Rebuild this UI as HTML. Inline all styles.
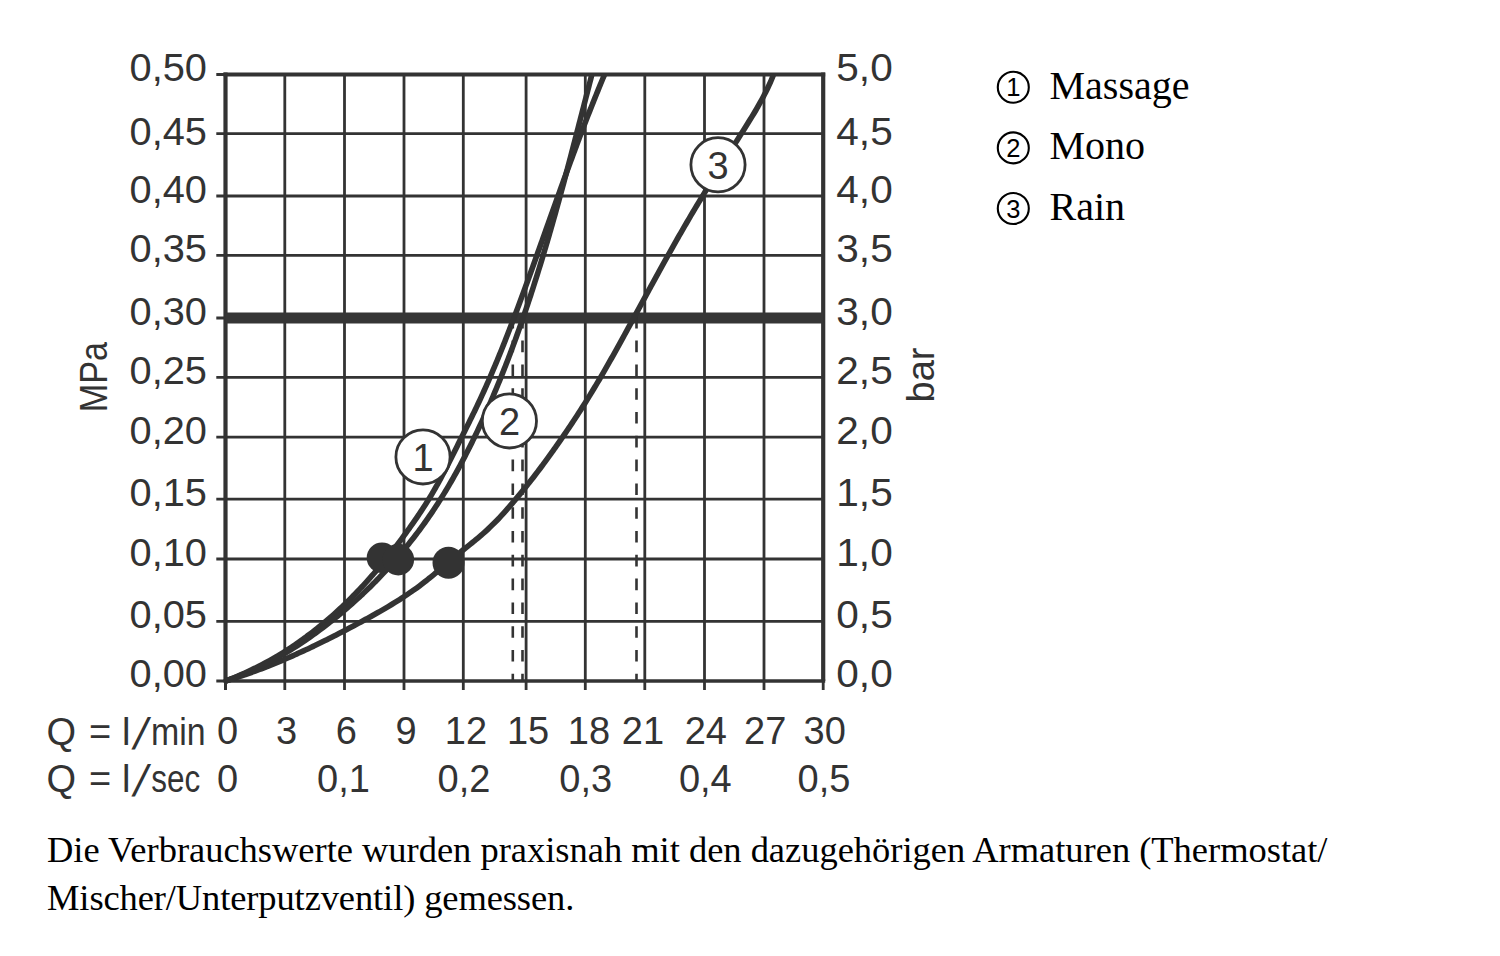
<!DOCTYPE html>
<html><head><meta charset="utf-8"><title>Durchflussdiagramm</title>
<style>html,body{margin:0;padding:0;background:#fff;}body{width:1500px;height:956px;overflow:hidden;}svg{display:block;}</style>
</head><body>
<svg width="1500" height="956" viewBox="0 0 1500 956">
<rect x="0" y="0" width="1500" height="956" fill="#fff"/>
<path d="M284.8,74.6 V690 M344.5,74.6 V690 M404,74.6 V690 M463.3,74.6 V690 M526.1,74.6 V690 M585.3,74.6 V690 M644.8,74.6 V690 M704.5,74.6 V690 M764,74.6 V690 M216.3,621.3 H823.2 M216.3,559 H823.2 M216.3,499.2 H823.2 M216.3,437.2 H823.2 M216.3,377.4 H823.2 M216.3,318 H823.2 M216.3,255.4 H823.2 M216.3,196 H823.2 M216.3,133.6 H823.2" stroke="#333" stroke-width="2.8" fill="none"/>
<path d="M225.5,681 V690 M216.3,74.6 H225.5 M216.3,681 H225.5" stroke="#333" stroke-width="3" fill="none"/>
<path d="M223.5,74.6 H825.2" stroke="#333" stroke-width="4" fill="none"/>
<path d="M223.5,681 H825.2" stroke="#333" stroke-width="3.5" fill="none"/>
<path d="M225.5,72.6 V681" stroke="#333" stroke-width="4.2" fill="none"/>
<path d="M823.2,72.6 V681" stroke="#333" stroke-width="4.2" fill="none"/>
<path d="M225.5,681 V690 M823.2,681 V690" stroke="#333" stroke-width="2.8" fill="none"/>
<path d="M225.5,318 H823.2" stroke="#363636" stroke-width="11" fill="none"/>
<path d="M512.8,316.8 V681" stroke="#333" stroke-width="2.6" stroke-dasharray="11.6 12.2" fill="none"/>
<path d="M522.5,316.8 V681" stroke="#333" stroke-width="2.6" stroke-dasharray="11.6 12.2" fill="none"/>
<path d="M636.5,316.8 V681" stroke="#333" stroke-width="2.6" stroke-dasharray="11.6 12.2" fill="none"/>
<path d="M225.5,681 C226.14,680.81 228.05,680.23 229.32,679.84 C230.59,679.45 231.86,679.05 233.13,678.65 C234.39,678.25 235.66,677.84 236.92,677.43 C238.19,677.01 239.45,676.6 240.71,676.17 C241.97,675.75 243.23,675.32 244.48,674.89 C245.74,674.46 247,674.02 248.25,673.58 C249.5,673.14 250.75,672.69 252,672.24 C253.25,671.79 254.5,671.34 255.74,670.88 C256.99,670.42 258.23,669.95 259.48,669.49 C260.72,669.02 261.96,668.54 263.2,668.07 C264.44,667.59 265.68,667.11 266.91,666.62 C268.15,666.14 269.38,665.65 270.62,665.16 C271.85,664.66 273.08,664.16 274.31,663.66 C275.54,663.16 276.77,662.66 277.99,662.15 C279.22,661.64 280.44,661.12 281.67,660.61 C282.89,660.09 284.11,659.57 285.33,659.04 C286.55,658.52 287.77,657.99 288.99,657.46 C290.21,656.93 291.42,656.39 292.64,655.86 C293.85,655.32 295.06,654.77 296.27,654.23 C297.49,653.68 298.7,653.14 299.9,652.58 C301.11,652.03 302.32,651.48 303.53,650.92 C304.73,650.36 305.94,649.8 307.14,649.24 C308.34,648.67 309.54,648.1 310.74,647.53 C311.95,646.96 313.14,646.39 314.34,645.82 C315.54,645.24 316.74,644.66 317.93,644.08 C319.13,643.5 320.32,642.91 321.51,642.33 C322.71,641.74 323.9,641.15 325.09,640.56 C326.28,639.97 327.47,639.37 328.66,638.78 C329.84,638.18 331.03,637.58 332.22,636.98 C333.4,636.38 334.59,635.78 335.77,635.17 C336.95,634.57 338.13,633.96 339.32,633.35 C340.5,632.74 341.68,632.13 342.86,631.51 C344.03,630.9 345.21,630.28 346.39,629.66 C347.57,629.05 348.74,628.43 349.92,627.8 C351.09,627.18 352.26,626.56 353.44,625.93 C354.61,625.31 355.78,624.68 356.95,624.06 C358.12,623.43 359.29,622.8 360.46,622.17 C361.63,621.54 362.8,620.9 363.96,620.27 C365.13,619.63 366.29,619 367.46,618.36 C368.62,617.72 369.78,617.08 370.95,616.44 C372.11,615.8 373.27,615.15 374.42,614.5 C375.58,613.85 376.74,613.2 377.89,612.55 C379.04,611.89 380.2,611.24 381.35,610.58 C382.49,609.91 383.64,609.25 384.79,608.58 C385.93,607.91 387.07,607.24 388.21,606.56 C389.35,605.88 390.49,605.2 391.62,604.51 C392.75,603.83 393.88,603.14 395.01,602.44 C396.14,601.74 397.26,601.04 398.38,600.33 C399.5,599.62 400.61,598.91 401.73,598.19 C402.84,597.47 403.95,596.75 405.05,596.02 C406.16,595.28 407.26,594.55 408.36,593.8 C409.45,593.06 410.54,592.3 411.63,591.54 C412.72,590.79 413.8,590.02 414.88,589.25 C415.96,588.47 417.03,587.69 418.1,586.9 C419.17,586.11 420.24,585.31 421.3,584.51 C422.35,583.7 423.41,582.89 424.46,582.07 C425.51,581.25 426.55,580.43 427.59,579.6 C428.64,578.76 429.67,577.93 430.71,577.08 C431.74,576.24 432.77,575.4 433.8,574.55 C434.83,573.7 435.85,572.85 436.88,571.99 C437.9,571.14 438.92,570.28 439.94,569.42 C440.96,568.56 441.98,567.7 442.99,566.84 C444.01,565.98 445.02,565.12 446.04,564.26 C447.05,563.4 448.06,562.54 449.07,561.68 C450.09,560.83 451.1,559.97 452.11,559.12 C453.12,558.26 454.14,557.41 455.15,556.57 C456.16,555.72 457.18,554.87 458.19,554.03 C459.21,553.19 460.22,552.35 461.24,551.52 C462.26,550.69 463.28,549.86 464.3,549.03 C465.32,548.21 466.35,547.39 467.37,546.57 C468.39,545.75 469.42,544.93 470.44,544.11 C471.47,543.29 472.49,542.47 473.51,541.64 C474.53,540.81 475.56,539.98 476.57,539.14 C477.59,538.3 478.6,537.46 479.61,536.6 C480.61,535.74 481.62,534.88 482.61,534 C483.61,533.12 484.6,532.23 485.59,531.34 C486.58,530.44 487.56,529.53 488.53,528.62 C489.5,527.71 490.47,526.78 491.43,525.85 C492.39,524.92 493.34,523.99 494.28,523.04 C495.22,522.1 496.16,521.15 497.08,520.19 C498.01,519.23 498.93,518.27 499.84,517.3 C500.75,516.33 501.65,515.35 502.54,514.37 C503.44,513.39 504.33,512.41 505.21,511.42 C506.09,510.43 506.97,509.44 507.84,508.44 C508.71,507.45 509.58,506.45 510.44,505.45 C511.3,504.44 512.16,503.44 513.01,502.43 C513.86,501.43 514.71,500.42 515.56,499.41 C516.4,498.4 517.25,497.39 518.08,496.38 C518.92,495.37 519.76,494.35 520.6,493.34 C521.43,492.32 522.26,491.31 523.09,490.28 C523.92,489.26 524.74,488.24 525.56,487.21 C526.39,486.19 527.21,485.16 528.02,484.13 C528.84,483.1 529.66,482.06 530.47,481.03 C531.28,479.99 532.09,478.95 532.9,477.91 C533.7,476.87 534.51,475.83 535.31,474.78 C536.11,473.73 536.91,472.68 537.71,471.63 C538.51,470.58 539.3,469.53 540.09,468.47 C540.89,467.42 541.68,466.36 542.47,465.3 C543.25,464.24 544.04,463.17 544.82,462.11 C545.61,461.04 546.39,459.97 547.17,458.9 C547.95,457.84 548.73,456.76 549.5,455.69 C550.28,454.61 551.05,453.54 551.82,452.46 C552.59,451.38 553.36,450.3 554.13,449.22 C554.9,448.14 555.67,447.05 556.43,445.96 C557.19,444.88 557.96,443.79 558.72,442.7 C559.48,441.61 560.24,440.52 560.99,439.42 C561.75,438.33 562.51,437.23 563.26,436.13 C564.02,435.03 564.77,433.93 565.52,432.83 C566.27,431.73 567.02,430.63 567.77,429.52 C568.51,428.41 569.26,427.31 570,426.2 C570.75,425.09 571.49,423.98 572.23,422.87 C572.96,421.75 573.7,420.64 574.44,419.52 C575.17,418.41 575.9,417.29 576.63,416.17 C577.36,415.05 578.09,413.93 578.81,412.81 C579.54,411.69 580.26,410.57 580.98,409.44 C581.7,408.32 582.42,407.19 583.13,406.06 C583.85,404.93 584.56,403.8 585.27,402.67 C585.97,401.54 586.68,400.41 587.38,399.28 C588.08,398.15 588.78,397.01 589.48,395.87 C590.18,394.74 590.87,393.6 591.56,392.46 C592.26,391.33 592.95,390.19 593.63,389.05 C594.32,387.9 595,386.76 595.69,385.62 C596.37,384.48 597.05,383.33 597.73,382.19 C598.4,381.04 599.08,379.9 599.75,378.75 C600.42,377.6 601.1,376.45 601.76,375.3 C602.43,374.16 603.1,373.01 603.77,371.85 C604.43,370.7 605.09,369.55 605.76,368.4 C606.42,367.25 607.08,366.09 607.74,364.94 C608.39,363.78 609.05,362.63 609.71,361.47 C610.36,360.32 611.01,359.16 611.67,358 C612.32,356.84 612.97,355.69 613.62,354.53 C614.27,353.37 614.92,352.21 615.56,351.05 C616.21,349.89 616.86,348.73 617.5,347.57 C618.14,346.4 618.79,345.24 619.43,344.08 C620.07,342.92 620.72,341.75 621.36,340.59 C622,339.43 622.64,338.26 623.28,337.1 C623.92,335.93 624.55,334.77 625.19,333.61 C625.83,332.44 626.47,331.27 627.1,330.11 C627.74,328.94 628.38,327.78 629.01,326.61 C629.65,325.44 630.28,324.28 630.92,323.11 C631.56,321.94 632.19,320.78 632.83,319.61 C633.46,318.44 634.09,317.27 634.73,316.11 C635.36,314.94 636,313.77 636.63,312.6 C637.27,311.44 637.9,310.27 638.54,309.1 C639.17,307.93 639.81,306.77 640.44,305.6 C641.08,304.43 641.71,303.26 642.35,302.1 C642.98,300.93 643.62,299.76 644.25,298.59 C644.89,297.43 645.52,296.26 646.16,295.09 C646.79,293.92 647.43,292.76 648.06,291.59 C648.7,290.42 649.34,289.26 649.97,288.09 C650.61,286.92 651.25,285.76 651.88,284.59 C652.52,283.43 653.16,282.26 653.8,281.1 C654.44,279.93 655.07,278.77 655.71,277.6 C656.35,276.44 656.99,275.28 657.63,274.11 C658.27,272.95 658.91,271.79 659.55,270.63 C660.19,269.46 660.84,268.3 661.48,267.14 C662.12,265.98 662.76,264.82 663.41,263.66 C664.05,262.5 664.69,261.34 665.34,260.18 C665.98,259.03 666.63,257.87 667.27,256.71 C667.92,255.55 668.57,254.4 669.21,253.24 C669.86,252.09 670.51,250.93 671.16,249.78 C671.81,248.62 672.46,247.47 673.11,246.32 C673.76,245.17 674.41,244.02 675.07,242.87 C675.72,241.72 676.37,240.57 677.03,239.42 C677.68,238.27 678.34,237.12 678.99,235.98 C679.65,234.83 680.31,233.68 680.97,232.54 C681.63,231.4 682.29,230.25 682.95,229.11 C683.61,227.97 684.27,226.83 684.93,225.69 C685.6,224.55 686.26,223.41 686.93,222.27 C687.59,221.13 688.26,220 688.93,218.86 C689.59,217.72 690.26,216.59 690.93,215.45 C691.6,214.32 692.27,213.19 692.95,212.05 C693.62,210.92 694.29,209.79 694.97,208.66 C695.64,207.52 696.32,206.39 696.99,205.26 C697.67,204.13 698.35,203 699.02,201.87 C699.7,200.74 700.38,199.62 701.06,198.49 C701.75,197.36 702.43,196.23 703.11,195.1 C703.79,193.98 704.48,192.85 705.16,191.72 C705.85,190.59 706.53,189.47 707.22,188.34 C707.91,187.21 708.6,186.09 709.29,184.96 C709.98,183.83 710.67,182.71 711.36,181.58 C712.05,180.46 712.74,179.33 713.44,178.2 C714.13,177.08 714.83,175.95 715.52,174.83 C716.22,173.7 716.91,172.57 717.61,171.45 C718.31,170.32 719.01,169.19 719.71,168.06 C720.41,166.94 721.11,165.81 721.81,164.68 C722.52,163.55 723.22,162.43 723.92,161.3 C724.63,160.17 725.33,159.04 726.04,157.91 C726.75,156.78 727.46,155.65 728.16,154.52 C728.87,153.39 729.58,152.26 730.29,151.13 C731.01,150 731.72,148.86 732.43,147.73 C733.14,146.6 733.86,145.46 734.57,144.33 C735.29,143.19 736,142.06 736.72,140.92 C737.44,139.78 738.16,138.65 738.88,137.51 C739.6,136.37 740.32,135.23 741.04,134.09 C741.76,132.95 742.48,131.81 743.2,130.67 C743.93,129.52 744.65,128.38 745.37,127.24 C746.09,126.09 746.81,124.94 747.53,123.8 C748.25,122.65 748.97,121.5 749.68,120.35 C750.39,119.2 751.1,118.05 751.8,116.9 C752.5,115.74 753.2,114.59 753.89,113.44 C754.59,112.28 755.27,111.12 755.95,109.96 C756.63,108.81 757.3,107.64 757.97,106.48 C758.63,105.32 759.29,104.16 759.94,102.99 C760.58,101.83 761.22,100.66 761.86,99.49 C762.49,98.32 763.11,97.15 763.72,95.98 C764.33,94.81 764.93,93.63 765.53,92.46 C766.12,91.28 766.7,90.1 767.27,88.92 C767.84,87.74 768.4,86.56 768.94,85.37 C769.49,84.19 770.02,83 770.55,81.81 C771.07,80.62 771.58,79.43 772.07,78.24 C772.57,77.05 773.28,75.25 773.52,74.65" stroke="#333" stroke-width="5.6" fill="none" stroke-linecap="butt"/>
<path d="M225.5,681.01 C226.14,680.76 228.06,680.04 229.33,679.55 C230.6,679.06 231.87,678.56 233.13,678.05 C234.39,677.54 235.65,677.03 236.9,676.51 C238.15,675.98 239.4,675.45 240.64,674.92 C241.88,674.38 243.11,673.83 244.34,673.28 C245.58,672.73 246.8,672.17 248.02,671.61 C249.24,671.04 250.46,670.47 251.67,669.89 C252.88,669.31 254.09,668.72 255.29,668.12 C256.49,667.53 257.68,666.93 258.87,666.32 C260.06,665.71 261.25,665.1 262.43,664.47 C263.61,663.85 264.79,663.22 265.96,662.59 C267.13,661.95 268.3,661.31 269.46,660.66 C270.62,660.01 271.78,659.36 272.93,658.7 C274.08,658.03 275.23,657.36 276.37,656.69 C277.52,656.02 278.65,655.33 279.79,654.65 C280.92,653.96 282.05,653.26 283.17,652.56 C284.3,651.86 285.42,651.16 286.53,650.44 C287.64,649.73 288.75,649.01 289.86,648.29 C290.96,647.56 292.07,646.83 293.16,646.09 C294.26,645.35 295.35,644.61 296.44,643.86 C297.52,643.11 298.61,642.36 299.68,641.6 C300.76,640.84 301.84,640.07 302.91,639.3 C303.97,638.52 305.04,637.74 306.1,636.96 C307.16,636.18 308.22,635.39 309.27,634.59 C310.32,633.8 311.37,632.99 312.41,632.19 C313.45,631.38 314.49,630.57 315.52,629.75 C316.56,628.93 317.59,628.11 318.61,627.28 C319.64,626.46 320.66,625.62 321.68,624.78 C322.69,623.94 323.71,623.1 324.71,622.25 C325.72,621.4 326.73,620.55 327.73,619.69 C328.73,618.83 329.72,617.96 330.71,617.09 C331.71,616.22 332.69,615.35 333.68,614.47 C334.66,613.59 335.64,612.71 336.62,611.82 C337.59,610.93 338.56,610.04 339.53,609.14 C340.5,608.24 341.46,607.33 342.42,606.43 C343.38,605.52 344.33,604.61 345.29,603.69 C346.24,602.77 347.18,601.85 348.13,600.92 C349.07,600 350.01,599.07 350.95,598.13 C351.88,597.2 352.81,596.26 353.74,595.31 C354.67,594.37 355.59,593.42 356.51,592.47 C357.43,591.52 358.35,590.56 359.26,589.6 C360.18,588.64 361.08,587.67 361.99,586.71 C362.89,585.74 363.8,584.76 364.69,583.79 C365.59,582.81 366.48,581.83 367.37,580.85 C368.27,579.86 369.15,578.87 370.03,577.88 C370.92,576.89 371.8,575.89 372.67,574.89 C373.55,573.89 374.42,572.89 375.29,571.88 C376.16,570.88 377.02,569.86 377.88,568.85 C378.74,567.84 379.6,566.82 380.46,565.8 C381.31,564.78 382.16,563.75 383.01,562.72 C383.86,561.7 384.7,560.67 385.54,559.63 C386.38,558.6 387.22,557.56 388.05,556.52 C388.88,555.48 389.71,554.43 390.54,553.39 C391.37,552.34 392.19,551.29 393.01,550.24 C393.83,549.18 394.65,548.13 395.46,547.07 C396.28,546.01 397.09,544.95 397.89,543.88 C398.7,542.82 399.5,541.75 400.3,540.68 C401.1,539.61 401.9,538.53 402.7,537.46 C403.49,536.38 404.28,535.3 405.07,534.22 C405.86,533.14 406.64,532.06 407.42,530.97 C408.2,529.89 408.98,528.8 409.76,527.71 C410.53,526.61 411.31,525.52 412.07,524.43 C412.84,523.33 413.61,522.23 414.37,521.13 C415.14,520.03 415.9,518.93 416.65,517.82 C417.41,516.72 418.16,515.61 418.91,514.5 C419.66,513.39 420.4,512.28 421.14,511.17 C421.87,510.06 422.61,508.94 423.34,507.82 C424.06,506.71 424.78,505.59 425.5,504.46 C426.21,503.34 426.92,502.22 427.62,501.09 C428.32,499.97 429.02,498.84 429.7,497.71 C430.39,496.58 431.07,495.45 431.74,494.31 C432.41,493.18 433.08,492.04 433.73,490.91 C434.39,489.77 435.04,488.63 435.69,487.49 C436.34,486.35 436.98,485.2 437.61,484.06 C438.25,482.91 438.88,481.76 439.5,480.61 C440.13,479.47 440.75,478.31 441.37,477.16 C441.98,476.01 442.59,474.85 443.2,473.7 C443.81,472.54 444.42,471.38 445.02,470.22 C445.62,469.06 446.22,467.9 446.82,466.74 C447.42,465.58 448.01,464.41 448.6,463.25 C449.2,462.08 449.79,460.91 450.38,459.74 C450.97,458.57 451.56,457.4 452.14,456.23 C452.73,455.05 453.32,453.88 453.91,452.7 C454.49,451.53 455.08,450.35 455.67,449.17 C456.26,447.99 456.84,446.81 457.43,445.63 C458.02,444.44 458.61,443.26 459.2,442.07 C459.8,440.89 460.39,439.7 460.98,438.51 C461.58,437.33 462.18,436.14 462.77,434.94 C463.37,433.75 463.97,432.56 464.57,431.37 C465.17,430.17 465.77,428.98 466.36,427.78 C466.96,426.59 467.56,425.39 468.16,424.19 C468.76,422.99 469.35,421.79 469.95,420.59 C470.54,419.39 471.14,418.18 471.73,416.98 C472.32,415.77 472.91,414.57 473.49,413.36 C474.08,412.16 474.67,410.95 475.25,409.74 C475.83,408.53 476.41,407.32 476.98,406.11 C477.55,404.9 478.13,403.68 478.69,402.47 C479.26,401.26 479.83,400.04 480.39,398.83 C480.96,397.61 481.52,396.39 482.07,395.18 C482.63,393.96 483.18,392.74 483.74,391.52 C484.29,390.3 484.84,389.08 485.38,387.86 C485.93,386.64 486.47,385.41 487.01,384.19 C487.55,382.97 488.09,381.74 488.63,380.52 C489.16,379.29 489.7,378.06 490.23,376.84 C490.76,375.61 491.29,374.38 491.81,373.15 C492.34,371.92 492.86,370.69 493.38,369.46 C493.9,368.23 494.42,367 494.94,365.77 C495.46,364.54 495.97,363.3 496.48,362.07 C497,360.84 497.51,359.6 498.02,358.37 C498.52,357.13 499.03,355.9 499.53,354.66 C500.04,353.42 500.54,352.19 501.04,350.95 C501.54,349.71 502.04,348.47 502.54,347.23 C503.03,346 503.53,344.76 504.02,343.52 C504.51,342.28 505,341.03 505.49,339.79 C505.98,338.55 506.47,337.31 506.96,336.07 C507.44,334.83 507.93,333.58 508.41,332.34 C508.89,331.1 509.37,329.85 509.85,328.61 C510.33,327.37 510.81,326.12 511.29,324.88 C511.77,323.63 512.24,322.39 512.72,321.14 C513.19,319.9 513.66,318.65 514.14,317.4 C514.61,316.16 515.08,314.91 515.55,313.66 C516.02,312.42 516.49,311.17 516.95,309.92 C517.42,308.67 517.89,307.43 518.35,306.18 C518.82,304.93 519.28,303.68 519.74,302.43 C520.21,301.19 520.67,299.94 521.13,298.69 C521.59,297.44 522.05,296.19 522.51,294.94 C522.97,293.69 523.43,292.44 523.89,291.19 C524.35,289.95 524.8,288.7 525.26,287.45 C525.72,286.2 526.17,284.95 526.63,283.7 C527.09,282.45 527.54,281.2 527.99,279.95 C528.45,278.7 528.9,277.45 529.35,276.2 C529.81,274.95 530.26,273.7 530.71,272.45 C531.16,271.2 531.61,269.95 532.07,268.7 C532.52,267.45 532.97,266.2 533.42,264.95 C533.87,263.7 534.32,262.45 534.76,261.2 C535.21,259.95 535.66,258.7 536.11,257.44 C536.56,256.19 537.01,254.94 537.45,253.69 C537.9,252.44 538.35,251.19 538.8,249.94 C539.24,248.69 539.69,247.44 540.14,246.19 C540.58,244.94 541.03,243.69 541.48,242.44 C541.92,241.19 542.37,239.94 542.81,238.69 C543.26,237.44 543.71,236.19 544.15,234.94 C544.6,233.68 545.04,232.43 545.49,231.18 C545.93,229.93 546.38,228.68 546.82,227.43 C547.27,226.18 547.71,224.93 548.16,223.68 C548.61,222.43 549.05,221.18 549.5,219.93 C549.94,218.68 550.39,217.43 550.83,216.18 C551.28,214.93 551.72,213.68 552.17,212.43 C552.62,211.18 553.06,209.93 553.51,208.68 C553.95,207.43 554.4,206.19 554.85,204.94 C555.29,203.69 555.74,202.44 556.19,201.19 C556.64,199.94 557.08,198.69 557.53,197.44 C557.98,196.19 558.43,194.94 558.88,193.7 C559.33,192.45 559.77,191.2 560.22,189.95 C560.67,188.7 561.12,187.45 561.57,186.21 C562.02,184.96 562.47,183.71 562.93,182.46 C563.38,181.22 563.83,179.97 564.28,178.72 C564.73,177.47 565.19,176.23 565.64,174.98 C566.09,173.73 566.55,172.49 567,171.24 C567.46,169.99 567.91,168.75 568.37,167.5 C568.82,166.26 569.28,165.01 569.74,163.76 C570.2,162.52 570.65,161.27 571.11,160.03 C571.57,158.78 572.03,157.54 572.49,156.29 C572.95,155.05 573.41,153.8 573.88,152.56 C574.34,151.32 574.8,150.07 575.26,148.83 C575.73,147.58 576.19,146.34 576.66,145.1 C577.12,143.85 577.59,142.61 578.06,141.37 C578.53,140.13 578.99,138.88 579.46,137.64 C579.93,136.4 580.4,135.16 580.88,133.92 C581.35,132.68 581.82,131.43 582.29,130.19 C582.77,128.95 583.24,127.71 583.72,126.47 C584.2,125.23 584.67,123.99 585.15,122.75 C585.63,121.51 586.11,120.27 586.59,119.04 C587.07,117.8 587.55,116.56 588.04,115.32 C588.52,114.08 589,112.84 589.49,111.61 C589.98,110.37 590.46,109.13 590.95,107.9 C591.44,106.66 591.93,105.42 592.42,104.19 C592.91,102.95 593.41,101.72 593.9,100.48 C594.4,99.24 594.89,98.01 595.39,96.78 C595.89,95.54 596.39,94.31 596.89,93.07 C597.39,91.84 597.89,90.61 598.39,89.37 C598.89,88.14 599.4,86.91 599.91,85.68 C600.41,84.45 600.92,83.21 601.43,81.98 C601.94,80.75 602.45,79.52 602.97,78.29 C603.48,77.06 604.25,75.22 604.51,74.6" stroke="#333" stroke-width="5.6" fill="none" stroke-linecap="butt"/>
<path d="M225.5,681 C226.14,680.78 228.05,680.11 229.31,679.66 C230.58,679.2 231.84,678.74 233.1,678.26 C234.36,677.79 235.61,677.31 236.86,676.82 C238.11,676.34 239.35,675.84 240.59,675.34 C241.83,674.83 243.07,674.32 244.3,673.8 C245.53,673.29 246.76,672.76 247.99,672.23 C249.21,671.69 250.43,671.15 251.64,670.6 C252.86,670.06 254.07,669.5 255.28,668.94 C256.49,668.38 257.69,667.81 258.89,667.23 C260.09,666.65 261.28,666.07 262.47,665.48 C263.66,664.89 264.85,664.29 266.04,663.68 C267.22,663.08 268.4,662.47 269.57,661.85 C270.75,661.23 271.92,660.61 273.09,659.97 C274.25,659.34 275.42,658.7 276.58,658.06 C277.74,657.41 278.89,656.76 280.05,656.11 C281.2,655.45 282.35,654.78 283.49,654.11 C284.64,653.44 285.78,652.77 286.91,652.08 C288.05,651.4 289.18,650.71 290.31,650.02 C291.44,649.32 292.57,648.62 293.69,647.92 C294.81,647.21 295.93,646.5 297.05,645.78 C298.16,645.06 299.27,644.33 300.38,643.6 C301.49,642.87 302.6,642.14 303.7,641.4 C304.8,640.66 305.89,639.91 306.99,639.16 C308.08,638.4 309.17,637.65 310.26,636.88 C311.35,636.12 312.43,635.35 313.51,634.58 C314.59,633.8 315.67,633.03 316.74,632.24 C317.82,631.46 318.89,630.67 319.95,629.87 C321.02,629.08 322.08,628.28 323.14,627.48 C324.2,626.67 325.26,625.86 326.31,625.05 C327.37,624.24 328.42,623.42 329.47,622.6 C330.51,621.77 331.56,620.95 332.6,620.11 C333.64,619.28 334.68,618.45 335.71,617.6 C336.75,616.76 337.78,615.92 338.81,615.07 C339.84,614.22 340.86,613.36 341.88,612.5 C342.91,611.64 343.93,610.78 344.94,609.91 C345.96,609.04 346.97,608.17 347.98,607.3 C348.99,606.42 350,605.54 351,604.65 C352.01,603.77 353.01,602.88 354,601.99 C355,601.09 355.99,600.19 356.98,599.29 C357.97,598.39 358.96,597.48 359.94,596.57 C360.92,595.66 361.9,594.75 362.88,593.83 C363.85,592.91 364.82,591.99 365.79,591.06 C366.75,590.14 367.71,589.21 368.67,588.27 C369.63,587.34 370.58,586.4 371.53,585.46 C372.48,584.51 373.42,583.57 374.36,582.62 C375.3,581.67 376.24,580.71 377.17,579.76 C378.1,578.8 379.03,577.84 379.95,576.87 C380.88,575.91 381.8,574.94 382.71,573.96 C383.62,572.99 384.53,572.01 385.44,571.03 C386.35,570.05 387.25,569.07 388.15,568.08 C389.04,567.1 389.94,566.1 390.83,565.11 C391.72,564.12 392.6,563.12 393.48,562.12 C394.36,561.11 395.24,560.11 396.11,559.1 C396.99,558.09 397.85,557.08 398.72,556.06 C399.58,555.05 400.44,554.03 401.3,553.01 C402.16,551.99 403.01,550.96 403.86,549.93 C404.7,548.9 405.55,547.87 406.39,546.84 C407.23,545.8 408.06,544.76 408.9,543.72 C409.73,542.68 410.56,541.63 411.38,540.59 C412.2,539.54 413.02,538.49 413.84,537.43 C414.65,536.38 415.46,535.32 416.27,534.26 C417.08,533.2 417.88,532.14 418.68,531.07 C419.47,530 420.27,528.93 421.05,527.86 C421.84,526.79 422.63,525.71 423.4,524.64 C424.18,523.56 424.96,522.48 425.72,521.39 C426.49,520.31 427.26,519.22 428.01,518.13 C428.77,517.04 429.53,515.95 430.27,514.86 C431.02,513.76 431.76,512.66 432.5,511.56 C433.24,510.46 433.97,509.36 434.7,508.25 C435.43,507.15 436.15,506.04 436.87,504.93 C437.59,503.82 438.31,502.7 439.02,501.59 C439.73,500.47 440.43,499.35 441.13,498.23 C441.83,497.11 442.53,495.99 443.22,494.86 C443.92,493.73 444.6,492.6 445.29,491.47 C445.97,490.34 446.65,489.21 447.32,488.07 C448,486.94 448.67,485.8 449.34,484.66 C450.01,483.52 450.67,482.37 451.33,481.23 C451.99,480.08 452.64,478.93 453.29,477.78 C453.95,476.63 454.59,475.48 455.24,474.33 C455.88,473.17 456.52,472.02 457.16,470.86 C457.8,469.7 458.43,468.54 459.06,467.38 C459.69,466.21 460.32,465.05 460.94,463.88 C461.56,462.71 462.18,461.54 462.8,460.37 C463.42,459.2 464.03,458.03 464.64,456.85 C465.25,455.68 465.86,454.5 466.46,453.32 C467.07,452.14 467.67,450.96 468.27,449.78 C468.86,448.59 469.46,447.41 470.05,446.22 C470.64,445.03 471.23,443.84 471.82,442.65 C472.41,441.46 472.99,440.27 473.58,439.08 C474.16,437.88 474.74,436.69 475.31,435.49 C475.89,434.29 476.46,433.09 477.04,431.89 C477.61,430.69 478.18,429.49 478.74,428.28 C479.31,427.08 479.87,425.87 480.43,424.66 C481,423.46 481.56,422.25 482.11,421.04 C482.67,419.82 483.22,418.61 483.77,417.4 C484.32,416.18 484.87,414.97 485.42,413.75 C485.97,412.54 486.51,411.32 487.05,410.1 C487.59,408.88 488.13,407.66 488.67,406.43 C489.21,405.21 489.74,403.99 490.27,402.76 C490.81,401.54 491.34,400.31 491.86,399.08 C492.39,397.85 492.92,396.63 493.44,395.4 C493.96,394.16 494.48,392.93 495,391.7 C495.52,390.47 496.03,389.23 496.55,388 C497.06,386.76 497.57,385.53 498.08,384.29 C498.59,383.05 499.1,381.81 499.6,380.57 C500.1,379.33 500.61,378.09 501.11,376.85 C501.61,375.61 502.1,374.37 502.6,373.12 C503.09,371.88 503.59,370.63 504.08,369.39 C504.57,368.14 505.06,366.9 505.55,365.65 C506.03,364.4 506.52,363.15 507,361.9 C507.48,360.66 507.96,359.41 508.44,358.15 C508.92,356.9 509.39,355.65 509.87,354.4 C510.34,353.15 510.81,351.89 511.28,350.64 C511.75,349.39 512.22,348.13 512.69,346.88 C513.15,345.62 513.62,344.36 514.08,343.11 C514.54,341.85 515,340.59 515.46,339.34 C515.91,338.08 516.37,336.82 516.82,335.56 C517.28,334.3 517.73,333.04 518.18,331.78 C518.63,330.52 519.07,329.26 519.52,328 C519.97,326.74 520.41,325.48 520.85,324.22 C521.29,322.96 521.73,321.69 522.17,320.43 C522.61,319.17 523.05,317.91 523.48,316.64 C523.91,315.38 524.35,314.12 524.78,312.85 C525.21,311.59 525.64,310.32 526.06,309.06 C526.49,307.8 526.91,306.53 527.34,305.27 C527.76,304 528.18,302.74 528.6,301.47 C529.02,300.2 529.44,298.94 529.86,297.67 C530.27,296.4 530.69,295.14 531.1,293.87 C531.51,292.6 531.92,291.34 532.33,290.07 C532.74,288.8 533.15,287.53 533.56,286.26 C533.96,285 534.37,283.73 534.77,282.46 C535.18,281.19 535.58,279.92 535.98,278.65 C536.38,277.38 536.78,276.11 537.17,274.84 C537.57,273.57 537.97,272.3 538.36,271.03 C538.76,269.76 539.15,268.49 539.54,267.22 C539.93,265.95 540.32,264.67 540.71,263.4 C541.1,262.13 541.49,260.86 541.87,259.59 C542.26,258.31 542.64,257.04 543.02,255.77 C543.41,254.49 543.79,253.22 544.17,251.95 C544.55,250.67 544.93,249.4 545.31,248.12 C545.69,246.85 546.06,245.58 546.44,244.3 C546.81,243.03 547.19,241.75 547.56,240.48 C547.93,239.2 548.3,237.92 548.68,236.65 C549.05,235.37 549.42,234.1 549.78,232.82 C550.15,231.54 550.52,230.27 550.89,228.99 C551.25,227.71 551.62,226.44 551.98,225.16 C552.35,223.88 552.71,222.6 553.07,221.32 C553.43,220.05 553.79,218.77 554.15,217.49 C554.52,216.21 554.87,214.93 555.23,213.65 C555.59,212.37 555.95,211.09 556.3,209.81 C556.66,208.53 557.02,207.25 557.37,205.97 C557.72,204.69 558.08,203.41 558.43,202.13 C558.78,200.85 559.14,199.57 559.49,198.29 C559.84,197.01 560.19,195.73 560.54,194.44 C560.89,193.16 561.24,191.88 561.59,190.6 C561.93,189.32 562.28,188.03 562.63,186.75 C562.97,185.47 563.32,184.19 563.67,182.9 C564.01,181.62 564.36,180.34 564.7,179.05 C565.04,177.77 565.39,176.48 565.73,175.2 C566.07,173.92 566.41,172.63 566.76,171.35 C567.1,170.06 567.44,168.78 567.78,167.49 C568.12,166.21 568.46,164.92 568.8,163.64 C569.14,162.35 569.48,161.06 569.82,159.78 C570.16,158.49 570.49,157.21 570.83,155.92 C571.17,154.63 571.51,153.35 571.84,152.06 C572.18,150.77 572.52,149.48 572.85,148.2 C573.19,146.91 573.52,145.62 573.86,144.33 C574.19,143.05 574.53,141.76 574.86,140.47 C575.2,139.18 575.53,137.89 575.87,136.6 C576.2,135.32 576.54,134.03 576.87,132.74 C577.2,131.45 577.54,130.16 577.87,128.87 C578.2,127.58 578.54,126.29 578.87,125 C579.2,123.71 579.54,122.42 579.87,121.13 C580.2,119.84 580.53,118.55 580.87,117.26 C581.2,115.97 581.53,114.68 581.87,113.39 C582.2,112.09 582.53,110.8 582.86,109.51 C583.19,108.22 583.53,106.93 583.86,105.64 C584.19,104.34 584.52,103.05 584.86,101.76 C585.19,100.47 585.52,99.17 585.85,97.88 C586.19,96.59 586.52,95.3 586.85,94 C587.19,92.71 587.52,91.42 587.85,90.12 C588.19,88.83 588.52,87.54 588.85,86.24 C589.19,84.95 589.52,83.65 589.85,82.36 C590.19,81.07 590.52,79.77 590.86,78.48 C591.19,77.18 591.69,75.24 591.86,74.59" stroke="#333" stroke-width="5.6" fill="none" stroke-linecap="butt"/>
<circle cx="382" cy="557.8" r="15.3" fill="#333"/>
<circle cx="398.3" cy="559.6" r="15.8" fill="#333"/>
<circle cx="448.5" cy="562.7" r="16" fill="#333"/>
<circle cx="423" cy="456.9" r="27.1" fill="#fff" stroke="#333" stroke-width="2.8"/>
<text x="423" y="470.6" text-anchor="middle" style="font-family:'Liberation Sans',Arial,sans-serif;font-size:38px" fill="#333">1</text>
<circle cx="509.4" cy="420.9" r="27.1" fill="#fff" stroke="#333" stroke-width="2.8"/>
<text x="509.6" y="434.6" text-anchor="middle" style="font-family:'Liberation Sans',Arial,sans-serif;font-size:38px" fill="#333">2</text>
<circle cx="718" cy="164.8" r="27.1" fill="#fff" stroke="#333" stroke-width="2.8"/>
<text x="718" y="178.8" text-anchor="middle" style="font-family:'Liberation Sans',Arial,sans-serif;font-size:38px" fill="#333">3</text>
<text x="207" y="687.2" text-anchor="end" textLength="77.4" lengthAdjust="spacingAndGlyphs" style="font-family:'Liberation Sans',Arial,sans-serif;font-size:38px" fill="#333">0,00</text>
<text x="207" y="627.8" text-anchor="end" textLength="77.4" lengthAdjust="spacingAndGlyphs" style="font-family:'Liberation Sans',Arial,sans-serif;font-size:38px" fill="#333">0,05</text>
<text x="207" y="565.6" text-anchor="end" textLength="77.4" lengthAdjust="spacingAndGlyphs" style="font-family:'Liberation Sans',Arial,sans-serif;font-size:38px" fill="#333">0,10</text>
<text x="207" y="505.7" text-anchor="end" textLength="77.4" lengthAdjust="spacingAndGlyphs" style="font-family:'Liberation Sans',Arial,sans-serif;font-size:38px" fill="#333">0,15</text>
<text x="207" y="443.5" text-anchor="end" textLength="77.4" lengthAdjust="spacingAndGlyphs" style="font-family:'Liberation Sans',Arial,sans-serif;font-size:38px" fill="#333">0,20</text>
<text x="207" y="384.2" text-anchor="end" textLength="77.4" lengthAdjust="spacingAndGlyphs" style="font-family:'Liberation Sans',Arial,sans-serif;font-size:38px" fill="#333">0,25</text>
<text x="207" y="324.5" text-anchor="end" textLength="77.4" lengthAdjust="spacingAndGlyphs" style="font-family:'Liberation Sans',Arial,sans-serif;font-size:38px" fill="#333">0,30</text>
<text x="207" y="262.1" text-anchor="end" textLength="77.4" lengthAdjust="spacingAndGlyphs" style="font-family:'Liberation Sans',Arial,sans-serif;font-size:38px" fill="#333">0,35</text>
<text x="207" y="203" text-anchor="end" textLength="77.4" lengthAdjust="spacingAndGlyphs" style="font-family:'Liberation Sans',Arial,sans-serif;font-size:38px" fill="#333">0,40</text>
<text x="207" y="145.2" text-anchor="end" textLength="77.4" lengthAdjust="spacingAndGlyphs" style="font-family:'Liberation Sans',Arial,sans-serif;font-size:38px" fill="#333">0,45</text>
<text x="207" y="80.9" text-anchor="end" textLength="77.4" lengthAdjust="spacingAndGlyphs" style="font-family:'Liberation Sans',Arial,sans-serif;font-size:38px" fill="#333">0,50</text>
<text x="836.3" y="687.2" textLength="56.4" lengthAdjust="spacingAndGlyphs" style="font-family:'Liberation Sans',Arial,sans-serif;font-size:38px" fill="#333">0,0</text>
<text x="836.3" y="627.8" textLength="56.4" lengthAdjust="spacingAndGlyphs" style="font-family:'Liberation Sans',Arial,sans-serif;font-size:38px" fill="#333">0,5</text>
<text x="836.3" y="565.6" textLength="56.4" lengthAdjust="spacingAndGlyphs" style="font-family:'Liberation Sans',Arial,sans-serif;font-size:38px" fill="#333">1,0</text>
<text x="836.3" y="505.7" textLength="56.4" lengthAdjust="spacingAndGlyphs" style="font-family:'Liberation Sans',Arial,sans-serif;font-size:38px" fill="#333">1,5</text>
<text x="836.3" y="443.5" textLength="56.4" lengthAdjust="spacingAndGlyphs" style="font-family:'Liberation Sans',Arial,sans-serif;font-size:38px" fill="#333">2,0</text>
<text x="836.3" y="384.2" textLength="56.4" lengthAdjust="spacingAndGlyphs" style="font-family:'Liberation Sans',Arial,sans-serif;font-size:38px" fill="#333">2,5</text>
<text x="836.3" y="324.5" textLength="56.4" lengthAdjust="spacingAndGlyphs" style="font-family:'Liberation Sans',Arial,sans-serif;font-size:38px" fill="#333">3,0</text>
<text x="836.3" y="262.1" textLength="56.4" lengthAdjust="spacingAndGlyphs" style="font-family:'Liberation Sans',Arial,sans-serif;font-size:38px" fill="#333">3,5</text>
<text x="836.3" y="203" textLength="56.4" lengthAdjust="spacingAndGlyphs" style="font-family:'Liberation Sans',Arial,sans-serif;font-size:38px" fill="#333">4,0</text>
<text x="836.3" y="145.2" textLength="56.4" lengthAdjust="spacingAndGlyphs" style="font-family:'Liberation Sans',Arial,sans-serif;font-size:38px" fill="#333">4,5</text>
<text x="836.3" y="80.9" textLength="56.4" lengthAdjust="spacingAndGlyphs" style="font-family:'Liberation Sans',Arial,sans-serif;font-size:38px" fill="#333">5,0</text>
<text x="227.6" y="743.8" text-anchor="middle" style="font-family:'Liberation Sans',Arial,sans-serif;font-size:38px" fill="#333">0</text>
<text x="286.5" y="743.8" text-anchor="middle" style="font-family:'Liberation Sans',Arial,sans-serif;font-size:38px" fill="#333">3</text>
<text x="346.4" y="743.8" text-anchor="middle" style="font-family:'Liberation Sans',Arial,sans-serif;font-size:38px" fill="#333">6</text>
<text x="406" y="743.8" text-anchor="middle" style="font-family:'Liberation Sans',Arial,sans-serif;font-size:38px" fill="#333">9</text>
<text x="465.9" y="743.8" text-anchor="middle" style="font-family:'Liberation Sans',Arial,sans-serif;font-size:38px" fill="#333">12</text>
<text x="528.1" y="743.8" text-anchor="middle" style="font-family:'Liberation Sans',Arial,sans-serif;font-size:38px" fill="#333">15</text>
<text x="589" y="743.8" text-anchor="middle" style="font-family:'Liberation Sans',Arial,sans-serif;font-size:38px" fill="#333">18</text>
<text x="643" y="743.8" text-anchor="middle" style="font-family:'Liberation Sans',Arial,sans-serif;font-size:38px" fill="#333">21</text>
<text x="705.8" y="743.8" text-anchor="middle" style="font-family:'Liberation Sans',Arial,sans-serif;font-size:38px" fill="#333">24</text>
<text x="765.2" y="743.8" text-anchor="middle" style="font-family:'Liberation Sans',Arial,sans-serif;font-size:38px" fill="#333">27</text>
<text x="824.7" y="743.8" text-anchor="middle" style="font-family:'Liberation Sans',Arial,sans-serif;font-size:38px" fill="#333">30</text>
<text x="227.6" y="791.6" text-anchor="middle" style="font-family:'Liberation Sans',Arial,sans-serif;font-size:38px" fill="#333">0</text>
<text x="343.5" y="791.6" text-anchor="middle" style="font-family:'Liberation Sans',Arial,sans-serif;font-size:38px" fill="#333">0,1</text>
<text x="464" y="791.6" text-anchor="middle" style="font-family:'Liberation Sans',Arial,sans-serif;font-size:38px" fill="#333">0,2</text>
<text x="585.7" y="791.6" text-anchor="middle" style="font-family:'Liberation Sans',Arial,sans-serif;font-size:38px" fill="#333">0,3</text>
<text x="705.3" y="791.6" text-anchor="middle" style="font-family:'Liberation Sans',Arial,sans-serif;font-size:38px" fill="#333">0,4</text>
<text x="824" y="791.6" text-anchor="middle" style="font-family:'Liberation Sans',Arial,sans-serif;font-size:38px" fill="#333">0,5</text>
<g style="font-family:'Liberation Sans',Arial,sans-serif;font-size:38px" fill="#333">
<text x="46.6" y="744.8">Q</text>
<text x="89.0" y="744.8">=</text>
<text x="122.0" y="744.8">l</text>
<text transform="translate(131.4,749) skewX(-13)" x="0" y="0" style="font-size:44px">/</text>
<text x="151" y="744.8" textLength="54.6" lengthAdjust="spacingAndGlyphs">min</text>
</g>
<g style="font-family:'Liberation Sans',Arial,sans-serif;font-size:38px" fill="#333">
<text x="46.6" y="792.2">Q</text>
<text x="89.0" y="792.2">=</text>
<text x="122.0" y="792.2">l</text>
<text transform="translate(131.4,796.4) skewX(-13)" x="0" y="0" style="font-size:44px">/</text>
<text x="151.2" y="792.2" textLength="49" lengthAdjust="spacingAndGlyphs">sec</text>
</g>
<text transform="translate(107.2,412.3) rotate(-90)" textLength="70.2" lengthAdjust="spacingAndGlyphs" style="font-family:'Liberation Sans',Arial,sans-serif;font-size:38px" fill="#333">MPa</text>
<text transform="translate(933.9,402.5) rotate(-90)" style="font-family:'Liberation Sans',Arial,sans-serif;font-size:38px" fill="#333">bar</text>
<circle cx="1013.3" cy="87.2" r="15.5" fill="none" stroke="#000" stroke-width="2.1"/>
<text x="1013.3" y="96.3" text-anchor="middle" style="font-family:'Liberation Sans',Arial,sans-serif;font-size:25.5px" fill="#000">1</text>
<text x="1049.5" y="99.2" style="font-family:'Liberation Serif','Times New Roman',serif;font-size:40px" fill="#000">Massage</text>
<circle cx="1013.3" cy="147.9" r="15.5" fill="none" stroke="#000" stroke-width="2.1"/>
<text x="1013.3" y="157" text-anchor="middle" style="font-family:'Liberation Sans',Arial,sans-serif;font-size:25.5px" fill="#000">2</text>
<text x="1049.5" y="159.3" style="font-family:'Liberation Serif','Times New Roman',serif;font-size:40px" fill="#000">Mono</text>
<circle cx="1013.3" cy="208.5" r="15.5" fill="none" stroke="#000" stroke-width="2.1"/>
<text x="1013.3" y="217.6" text-anchor="middle" style="font-family:'Liberation Sans',Arial,sans-serif;font-size:25.5px" fill="#000">3</text>
<text x="1049.5" y="219.9" style="font-family:'Liberation Serif','Times New Roman',serif;font-size:40px" fill="#000">Rain</text>
<text x="47" y="861.8" textLength="1280.5" style="font-family:'Liberation Serif','Times New Roman',serif;font-size:36.5px" fill="#000">Die Verbrauchswerte wurden praxisnah mit den dazugehörigen Armaturen (Thermostat/</text>
<text x="47" y="909.6" textLength="527.3" style="font-family:'Liberation Serif','Times New Roman',serif;font-size:36.5px" fill="#000">Mischer/Unterputzventil) gemessen.</text>
</svg>
</body></html>
